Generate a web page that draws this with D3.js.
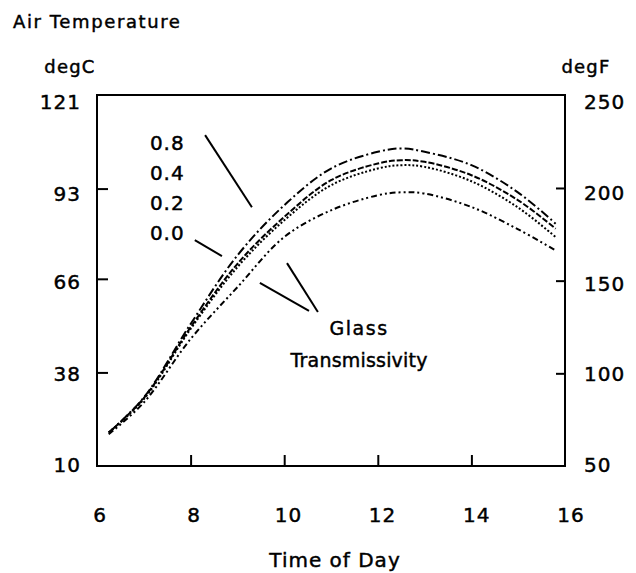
<!DOCTYPE html>
<html>
<head>
<meta charset="utf-8">
<script src="https://cdn.jsdelivr.net/npm/d3@7"></script>
<style>
  html, body { margin: 0; padding: 0; background: #fff; }
  svg text { font-family: "DejaVu Sans", Verdana, sans-serif; fill: #000; stroke: #000; stroke-width: 0.45px; }
</style>
</head>
<body>
<svg id="chart" width="636" height="573"></svg>
<script>
// Hours of the day at which air temperature was computed
const hours = [6.25, 7, 8, 9, 10, 11, 12, 12.5, 13, 14, 15, 15.8];

// Air temperature (degC) for each glass transmissivity
const trans08 = [20, 30.5, 52.5, 73, 88, 99, 104, 105, 104, 100, 91.8, 82.5];
const trans04 = [20, 30.3, 51.5, 70.5, 84.5, 95.5, 100.5, 101.5, 101, 97, 89.5, 81];
const trans02 = [20, 30, 51, 69.5, 83.5, 94, 99, 100, 99.5, 95.2, 87.3, 78.5];
const trans00 = [19.5, 29, 48, 63.5, 78.5, 86.5, 91, 91.9, 91.5, 87.5, 80.8, 74.5];
const seriesNames = ["0.8", "0.4", "0.2", "0.0"];

// Axis tick labels
const hourTicks = [6, 8, 10, 12, 14, 16];
const degCTicks = [10, 38, 66, 93, 121];
const degFTicks = [50, 100, 150, 200, 250];

// Annotation leader lines, in (hour, degC)
const labelLeaders = [
  [[8.31, 109], [9.31, 87.4]],
  [[8.09, 77.6], [8.67, 72.8]]
];
const glassLeaders = [
  [[10.06, 70.7], [10.72, 56.1]],
  [[9.48, 64.8], [10.53, 56.4]]
];

const svg = d3.select("#chart");
const plotL = 97, plotR = 565, plotT = 95, plotB = 466;

const x = d3.scaleLinear().domain([6, 16]).range([plotL, plotR]);
const y = d3.scaleLinear().domain([10, 121]).range([plotB, plotT]);
const yF = d3.scaleLinear().domain([50, 250]).range([plotB, plotT + 0.3]);

// label placement scales (labels sit slightly inside the frame ends)
const xLab = d3.scaleLinear().domain(x.domain()).range([plotL + 3, plotR + 6]);
const yLab = d3.scaleLinear().domain(y.domain()).range([plotB - 1, plotT + 7]);
const yFLab = d3.scaleLinear().domain(yF.domain()).range([plotB - 1, plotT + 7]);

// ticks pointing into the plot
svg.append("g")
  .attr("transform", `translate(${plotL},0)`)
  .call(d3.axisLeft(y).tickValues(degCTicks.slice(1, -1)).tickSize(-11).tickFormat(""))
  .call(g => g.select(".domain").remove())
  .selectAll("line").attr("stroke", "#000").attr("stroke-width", 2);

svg.append("g")
  .attr("transform", `translate(${plotR},0)`)
  .call(d3.axisRight(yF).tickValues(degFTicks.slice(1, -1)).tickSize(-9).tickFormat(""))
  .call(g => g.select(".domain").remove())
  .selectAll("line").attr("stroke", "#000").attr("stroke-width", 2);

svg.append("g")
  .attr("transform", `translate(0,${plotB})`)
  .call(d3.axisBottom(x).tickValues(hourTicks.slice(1, -1)).tickSize(-11).tickFormat(""))
  .call(g => g.select(".domain").remove())
  .selectAll("line").attr("stroke", "#000").attr("stroke-width", 2);

// frame
svg.append("rect")
  .attr("x", plotL).attr("y", plotT)
  .attr("width", plotR - plotL).attr("height", plotB - plotT)
  .attr("fill", "none").attr("stroke", "#000").attr("stroke-width", 2);

// tick labels
svg.append("g").selectAll("text").data(degCTicks).join("text")
  .attr("x", plotL - 16).attr("y", d => yLab(d))
  .attr("dy", "0.36em").attr("text-anchor", "end")
  .attr("font-size", 20).style("letter-spacing", "1px")
  .text(d => d);

svg.append("g").selectAll("text").data(degFTicks).join("text")
  .attr("x", plotR + 19).attr("y", d => yFLab(d))
  .attr("dy", "0.36em").attr("text-anchor", "start")
  .attr("font-size", 20).style("letter-spacing", "1px")
  .text(d => d);

svg.append("g").selectAll("text").data(hourTicks).join("text")
  .attr("x", d => xLab(d)).attr("y", plotB + 56)
  .attr("text-anchor", "middle")
  .attr("font-size", 20).style("letter-spacing", "1px")
  .text(d => d);

// titles
svg.append("text").attr("x", 13).attr("y", 28)
  .attr("font-size", 18).style("letter-spacing", "1.6px").text("Air Temperature");
svg.append("text").attr("x", 70).attr("y", 73).attr("text-anchor", "middle")
  .attr("font-size", 18).style("letter-spacing", "1.2px").text("degC");
svg.append("text").attr("x", 586).attr("y", 73).attr("text-anchor", "middle")
  .attr("font-size", 18).style("letter-spacing", "1.2px").text("degF");
svg.append("text").attr("x", 335).attr("y", 567).attr("text-anchor", "middle")
  .attr("font-size", 20).style("letter-spacing", "1px").text("Time of Day");

// temperature curves
const allSeries = [trans08, trans04, trans02, trans00];
const dashes = ["9,3,2,3", "6,2", "2,2", "6,3,2,3,2,3"];
const line = d3.line()
  .x((d, i) => x(hours[i]))
  .y(d => y(d))
  .curve(d3.curveCatmullRom.alpha(0.5));

svg.append("g").selectAll("path").data(allSeries).join("path")
  .attr("d", d => line(d))
  .attr("fill", "none").attr("stroke", "#000")
  .attr("stroke-width", 2)
  .attr("stroke-dasharray", (d, i) => dashes[i]);

// series labels
const labelHour = 7.13;
const labelTemps = [104.5, 95.6, 86.6, 77.6];
svg.append("g").selectAll("text").data(seriesNames).join("text")
  .attr("x", x(labelHour)).attr("y", (d, i) => y(labelTemps[i]))
  .attr("font-size", 20).style("letter-spacing", "1px")
  .text(d => d);

const leader = d3.line().x(d => x(d[0])).y(d => y(d[1]));
svg.append("g").selectAll("path").data(labelLeaders.concat(glassLeaders)).join("path")
  .attr("d", d => leader(d))
  .attr("fill", "none").attr("stroke", "#000").attr("stroke-width", 2);

// transmissivity caption
const capHour = 11.6;
svg.append("text").attr("x", x(capHour)).attr("y", y(49.2))
  .attr("text-anchor", "middle").attr("font-size", 19)
  .style("letter-spacing", "1.5px").text("Glass");
svg.append("text").attr("x", x(capHour)).attr("y", y(39.6))
  .attr("text-anchor", "middle").attr("font-size", 19)
  .style("letter-spacing", "0.2px").text("Transmissivity");
</script>
</body>
</html>
